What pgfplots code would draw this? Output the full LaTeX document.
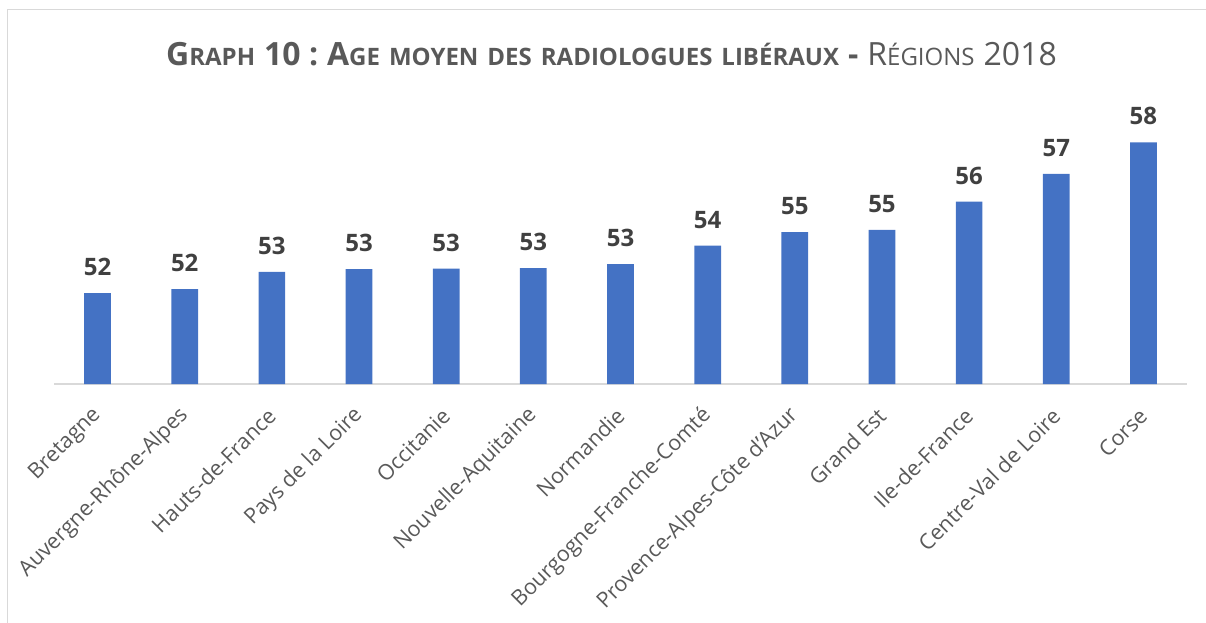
\documentclass[border=0pt]{standalone}
\usepackage{fontspec}
\setmainfont{Open Sans}
\usepackage{pgfplots}
\pgfplotsset{compat=1.18}
\definecolor{barblue}{HTML}{4472C4}
\definecolor{titlegray}{HTML}{595959}
\definecolor{labelgray}{HTML}{404040}
\definecolor{linegray}{HTML}{D9D9D9}
\newcommand\Bg[1]{{\fontsize{32bp}{36bp}\selectfont #1}}
\newcommand\Sm[1]{{\fontsize{24bp}{28bp}\selectfont #1}}
\newcommand\Sp{\hspace{9bp}}
\begin{document}
\begin{tikzpicture}
\begin{axis}[
 at={(54bp,-384bp)}, anchor=south west,
 scale only axis, width=1133bp, height=300.3bp,
 xmin=-0.5, xmax=12.5, ymin=48, ymax=61,
 ybar, bar width=26.7bp,
 axis y line=none, axis x line*=bottom,
 x axis line style={-, draw=linegray, line width=2bp},
 xtick={0,...,12}, major tick length=0pt,
 xticklabels={Bretagne,Auvergne-Rhône-Alpes,Hauts-de-France,Pays de la Loire,Occitanie,Nouvelle-Aquitaine,Normandie,Bourgogne-Franche-Comté,Provence-Alpes-Côte d'Azur,Grand Est,Ile-de-France,Centre-Val de Loire,Corse},
 xticklabel style={font=\fontsize{21.5bp}{24bp}\selectfont, text=titlegray, yshift=-28bp, rotate=45, anchor=east, inner sep=0pt},
 ytick=\empty,
 /pgf/number format/fixed, /pgf/number format/precision=0, /pgf/number format/assume math mode=true,
 nodes near coords,
 nodes near coords style={font=\bfseries\fontsize{24bp}{26bp}\selectfont, text=labelgray, inner sep=0pt, yshift=17bp},
]
\addplot[fill=barblue, draw=none] coordinates {
(0,51.93) (1,52.11) (2,52.85) (3,52.97) (4,52.99) (5,53.02) (6,53.19)
(7,53.99) (8,54.58) (9,54.67) (10,55.89) (11,57.10) (12,58.46)};
\end{axis}
\draw[linegray, line width=1bp] (7.3bp,-623bp) -- (7.3bp,-9.3bp) -- (1206bp,-9.3bp);
\node[anchor=base, text=titlegray, inner sep=0pt] at (611.5bp,-65bp)
 {\bfseries\Bg{G}\Sm{RAPH}\Sp\Bg{10 :}\Sp\Bg{A}\Sm{GE}\Sp\Sm{MOYEN}\Sp\Sm{DES}\Sp\Sm{RADIOLOGUES}\Sp\Sm{LIBÉRAUX}\Sp\Bg{-}\Sp\mdseries\Bg{R}\Sm{ÉGIONS}\Sp\Bg{2018}};
\pgfresetboundingbox
\path (0,0) rectangle (1206bp,-623bp);
\end{tikzpicture}
\end{document}
